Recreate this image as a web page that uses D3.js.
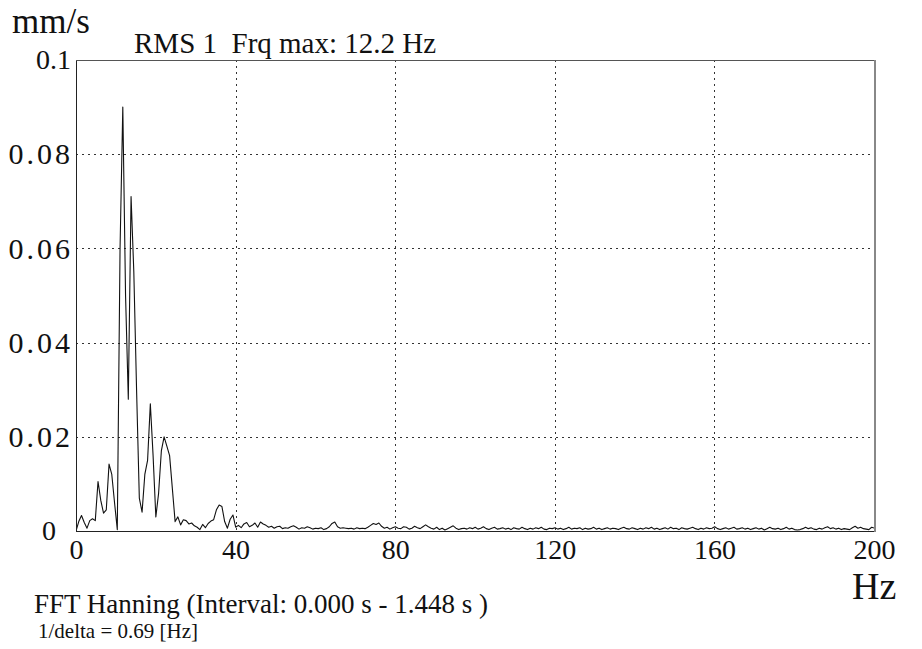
<!DOCTYPE html>
<html lang="en">
<head>
<meta charset="utf-8">
<title>FFT spectrum</title>
<script src="https://d3js.org/d3.v7.min.js"></script>
<style type="text/css">
  body { margin:0; background:#fff; }
  svg { display:block; }
  text { font-family: "Liberation Serif", "Times New Roman", serif; fill:#111; }
  .axis path, .axis line { display:none; }
  .axis text { font-size:28px; font-family: "Liberation Serif", serif; fill:#111; }
  .grid line { stroke:#333; stroke-width:1; stroke-dasharray:2,4; shape-rendering:crispEdges; }
</style>
</head>
<body>
<div id="chart"></div>
<script type="text/javascript">

// frequency step of the spectrum (1/delta)
var df = 0.69;

// x ticks (Hz) and y ticks (mm/s)
var xTicks = [0, 40, 80, 120, 160, 200];
var yTicks = [0, 0.02, 0.04, 0.06, 0.08, 0.1];
var yTickLabels = ["0", "0.02", "0.04", "0.06", "0.08", "0.1"];

// spectrum amplitude, one value every df Hz starting at 0 Hz
var amp = [
  0, 0.002, 0.0033, 0.0018, 0.0006, 0.0022, 0.0026, 0.0022, 0.0105, 0.0065,
  0.0038, 0.0045, 0.0142, 0.012, 0.006, 0.0003, 0.06, 0.09, 0.05, 0.028,
  0.071, 0.055, 0.03, 0.007, 0.004, 0.012, 0.015, 0.027, 0.016, 0.003,
  0.008, 0.017, 0.020, 0.018, 0.016, 0.009, 0.002, 0.003, 0.0013, 0.0024,
  0.0022, 0.0015, 0.0017, 0.0011, 0.0008, 0.0003, 0.0014, 0.0007, 0.0016, 0.0021,
  0.0024, 0.0045, 0.0055, 0.0052, 0.002, 0.0006, 0.0025, 0.0034, 0.0008, 0.0012,
  0.0007, 0.0015, 0.0018, 0.0009, 0.0012, 0.0017, 0.0008, 0.0019, 0.0015, 0.0012,
  0.0008, 0.001, 0.0006, 0.0009, 0.001, 0.0005, 0.0007, 0.0006, 0.0009, 0.0011,
  0.0008, 0.0004, 0.0007, 0.0006, 0.0009, 0.0007, 0.0004, 0.0006, 0.0005, 0.0007,
  0.0003, 0.0005, 0.0009, 0.0016, 0.0019, 0.0009, 0.0006, 0.0007, 0.0006, 0.0005,
  0.0006, 0.0004, 0.0007, 0.0005, 0.0006, 0.0005, 0.0008, 0.0012, 0.0016, 0.0014,
  0.0017, 0.0010, 0.0006, 0.0008, 0.0004, 0.0007, 0.0009, 0.0006, 0.0005, 0.0009,
  0.0008, 0.0004, 0.0006, 0.0010, 0.0007, 0.0005, 0.0009, 0.0013, 0.0009, 0.0006,
  0.0004, 0.0008, 0.0003, 0.0006, 0.0002, 0.0005, 0.0008, 0.0011, 0.0006, 0.0003,
  0.0005, 0.0006, 0.0004, 0.0007, 0.0005, 0.0008, 0.0004, 0.0006, 0.0009, 0.0005,
  0.0003, 0.0006, 0.0008, 0.0004, 0.0005, 0.0007, 0.0004, 0.0006, 0.0003, 0.0007,
  0.0005, 0.0004, 0.0008, 0.0005, 0.0003, 0.0006, 0.0004, 0.0007, 0.0005, 0.0008,
  0.0004, 0.0003, 0.0006, 0.0005, 0.0007, 0.0004, 0.0006, 0.0003, 0.0005, 0.0008,
  0.0004, 0.0006, 0.0005, 0.0007, 0.0003, 0.0006, 0.0004, 0.0005, 0.0008, 0.0004,
  0.0006, 0.0003, 0.0005, 0.0007, 0.0004, 0.0006, 0.0005, 0.0003, 0.0006, 0.0008,
  0.0005, 0.0004, 0.0007, 0.0005, 0.0003, 0.0006, 0.0004, 0.0007, 0.0005, 0.0008,
  0.0004, 0.0006, 0.0003, 0.0005, 0.0007, 0.0004, 0.0008, 0.0005, 0.0006, 0.0003,
  0.0007, 0.0005, 0.0004, 0.0006, 0.0008, 0.0005, 0.0003, 0.0006, 0.0004, 0.0007,
  0.0005, 0.0006, 0.0009, 0.0005, 0.0003, 0.0005, 0.0007, 0.0004, 0.0006, 0.0008,
  0.0004, 0.0005, 0.0007, 0.0004, 0.0006, 0.0003, 0.0005, 0.0007, 0.0004, 0.0006,
  0.0002, 0.0005, 0.0008, 0.0005, 0.0004, 0.0006, 0.0003, 0.0005, 0.0008, 0.0004,
  0.0006, 0.0003, 0.0002, 0.0003, 0.0005, 0.0008, 0.0005, 0.0007, 0.0004, 0.0003,
  0.0006, 0.0004, 0.0007, 0.0009, 0.0005, 0.0007, 0.0004, 0.0006, 0.0003, 0.0005,
  0.0004, 0.0003, 0.0007, 0.0010, 0.0006, 0.0008, 0.0005, 0.0004, 0.0003, 0.0008, 0.0006
];

var w = 922, h = 649;
var padL = 76, padR = 874, padT = 60, padB = 531;

var x = d3.scaleLinear().domain([0, 200]).range([padL, padR]);
var y = d3.scaleLinear().domain([0, 0.1]).range([padB, padT]);

var svg = d3.select("#chart").append("svg")
  .attr("width", w)
  .attr("height", h);

svg.append("clipPath").attr("id", "plotclip")
  .append("rect")
  .attr("x", padL).attr("y", padT - 2)
  .attr("width", padR - padL).attr("height", padB - padT + 2);

// dotted grid
var grid = svg.append("g").attr("class", "grid");
grid.selectAll("line.gx")
  .data(xTicks.slice(1, -1))
  .enter().append("line")
  .attr("class", "gx")
  .attr("x1", function(d) { return Math.round(x(d)) + 0.5; })
  .attr("x2", function(d) { return Math.round(x(d)) + 0.5; })
  .attr("y1", padT).attr("y2", padB);
grid.selectAll("line.gy")
  .data(yTicks.slice(1, -1))
  .enter().append("line")
  .attr("class", "gy")
  .attr("y1", function(d) { return Math.round(y(d)) + 0.5; })
  .attr("y2", function(d) { return Math.round(y(d)) + 0.5; })
  .attr("x1", padL).attr("x2", padR);

// spectrum line
var line = d3.line()
  .x(function(d, i) { return x(i * df); })
  .y(function(d) { return y(d); });

svg.append("path")
  .datum(amp)
  .attr("clip-path", "url(#plotclip)")
  .attr("d", line)
  .attr("fill", "none")
  .attr("stroke", "#111")
  .attr("stroke-width", 1.1)
  .attr("stroke-linejoin", "round");

// frame
svg.append("line").attr("x1", padL + 0.5).attr("x2", padL + 0.5).attr("y1", padT).attr("y2", padB + 1)
  .attr("stroke", "#222");
svg.append("line").attr("x1", padL).attr("x2", padR + 1).attr("y1", padB + 0.5).attr("y2", padB + 0.5)
  .attr("stroke", "#222");
svg.append("line").attr("x1", padL).attr("x2", padR + 1).attr("y1", padT + 0.5).attr("y2", padT + 0.5)
  .attr("stroke", "#555");
svg.append("line").attr("x1", padR + 1).attr("x2", padR + 1).attr("y1", padT).attr("y2", padB + 1)
  .attr("stroke", "#888").attr("stroke-width", 2);

// axes (labels only)
var yAxis = d3.axisLeft(y)
  .tickValues(yTicks)
  .tickSize(0)
  .tickPadding(0)
  .tickFormat(function(d, i) { return yTickLabels[i]; });
var gy = svg.append("g")
  .attr("class", "axis")
  .attr("transform", "translate(" + (padL - 5) + ",0)")
  .call(yAxis);
// the long labels are drawn wider in the original, the zero sits further left
gy.selectAll(".tick text")
  .style("letter-spacing", function(d, i) { return yTickLabels[i].length > 3 ? "3px" : null; })
  .style("font-size", function(d, i) { return yTickLabels[i].length > 3 ? "30px" : null; })
  .attr("dx", function(d, i) {
    if (yTickLabels[i].length > 3) return 2;
    if (d === 0) return -15;
    return 0;
  });

var xAxis = d3.axisBottom(x)
  .tickValues(xTicks)
  .tickSize(0)
  .tickPadding(0)
  .tickFormat(d3.format("d"));
svg.append("g")
  .attr("class", "axis")
  .attr("transform", "translate(0," + (padB + 8) + ")")
  .call(xAxis);

// texts
svg.append("text").attr("x", 12).attr("y", 33).style("font-size", "35px").text("mm/s");
svg.append("text").attr("x", 134).attr("y", 53).style("font-size", "29px")
  .attr("xml:space", "preserve").text("RMS 1  Frq max: 12.2 Hz");
svg.append("text").attr("x", 852).attr("y", 599).style("font-size", "38px").text("Hz");
svg.append("text").attr("x", 34).attr("y", 613).style("font-size", "27px")
  .text("FFT Hanning (Interval: 0.000 s - 1.448 s )");
svg.append("text").attr("x", 38).attr("y", 638).style("font-size", "21px")
  .text("1/delta = 0.69 [Hz]");

</script>
</body>
</html>
